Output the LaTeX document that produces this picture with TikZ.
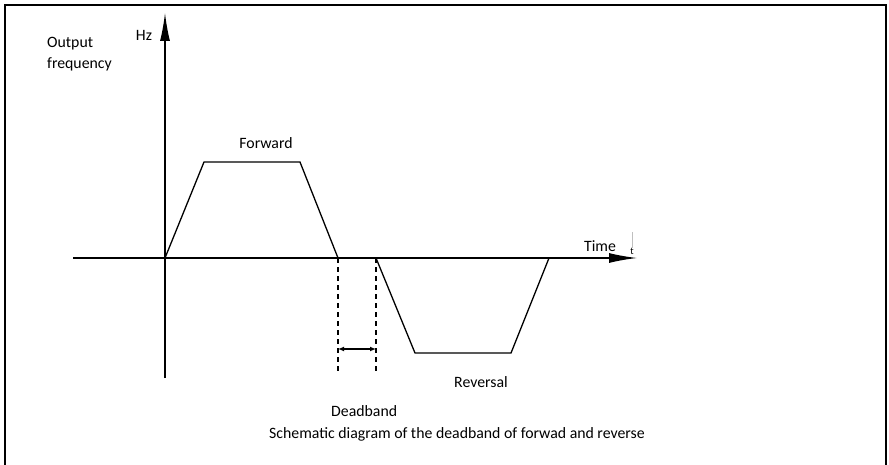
\documentclass[tikz,border=0pt]{standalone}
\usepackage{fontspec}
\setmainfont{Carlito}
\usepackage{tikz}
\usetikzlibrary{arrows, arrows.meta, positioning, calc}
\tikzstyle{lbl} = [inner sep=0pt, font=\fontsize{15.8}{19}\selectfont]
\tikzstyle{axis} = [draw, line width=1.3pt, -{Latex[length=28pt,width=10pt]}]
\tikzstyle{curve} = [draw, line width=1.3pt, line join=miter]
\tikzstyle{guide} = [draw, line width=1.2pt, dash pattern=on 5pt off 4pt]
\tikzstyle{span} = [draw, line width=1.2pt, {Latex[length=6pt,width=5pt]}-{Latex[length=6pt,width=5pt]}]

\begin{document}
\begin{tikzpicture}[x=1pt, y=-1pt, >=latex']
    \useasboundingbox (0,0) rectangle (889,465);
    % Frame
    \draw [line width=1.3pt] (5,466) -- (5,5) -- (886,5) -- (886,466);

    % Axes
    \coordinate (origin) at (165,258);
    \coordinate (ybot) at (165,378);
    \coordinate (ytop) at (165,13);
    \coordinate (xleft) at (73,258);
    \coordinate (xright) at (637,258);
    \draw [axis] (ybot) -- (ytop);
    \draw [axis] (xleft) -- (xright);

    % Forward
    \coordinate (f1) at (204,162);
    \coordinate (f2) at (300,162);
    \coordinate (fend) at (338,258);
    \draw [curve] (origin) -- (f1) -- (f2) -- (fend);

    % Reversal
    \coordinate (rstart) at (376,258);
    \coordinate (r1) at (415,353);
    \coordinate (r2) at (511,353);
    \coordinate (rend) at (549,258);
    \draw [curve] (rstart) -- (r1) -- (r2) -- (rend);

    % Deadband
    \coordinate (dl) at (338,373);
    \coordinate (dr) at (376,373);
    \draw [guide] (fend) -- (dl);
    \draw [guide] (rstart) -- (dr);
    \coordinate (al) at (338,349);
    \coordinate (ar) at (376,349);
    \draw [span] (al) -- (ar);

    % Labels
    \node (outfreq) [lbl, anchor=west, align=left] at (47,54) {Output\\[2pt]frequency};
    \node (hz) [lbl] at (144,35) {Hz};
    \node (fwd) [lbl] at (266,143) {Forward};
    \node (time) [lbl] at (600,246) {Time};
    \node (tlbl) [inner sep=0pt, font=\fontsize{10}{11}\selectfont] at (632,251) {t};
    \draw [gray!50, line width=0.4pt] (tlbl.north) -- ++(0,-16);
    \node (rev) [lbl] at (481,382) {Reversal};
    \node (dead) [lbl, anchor=west] at (331,411) {Deadband};
    \node (caption) [lbl, anchor=west] at (269,434) {Schematic diagram of the deadband of forwad and reverse};
\end{tikzpicture}
\end{document}
